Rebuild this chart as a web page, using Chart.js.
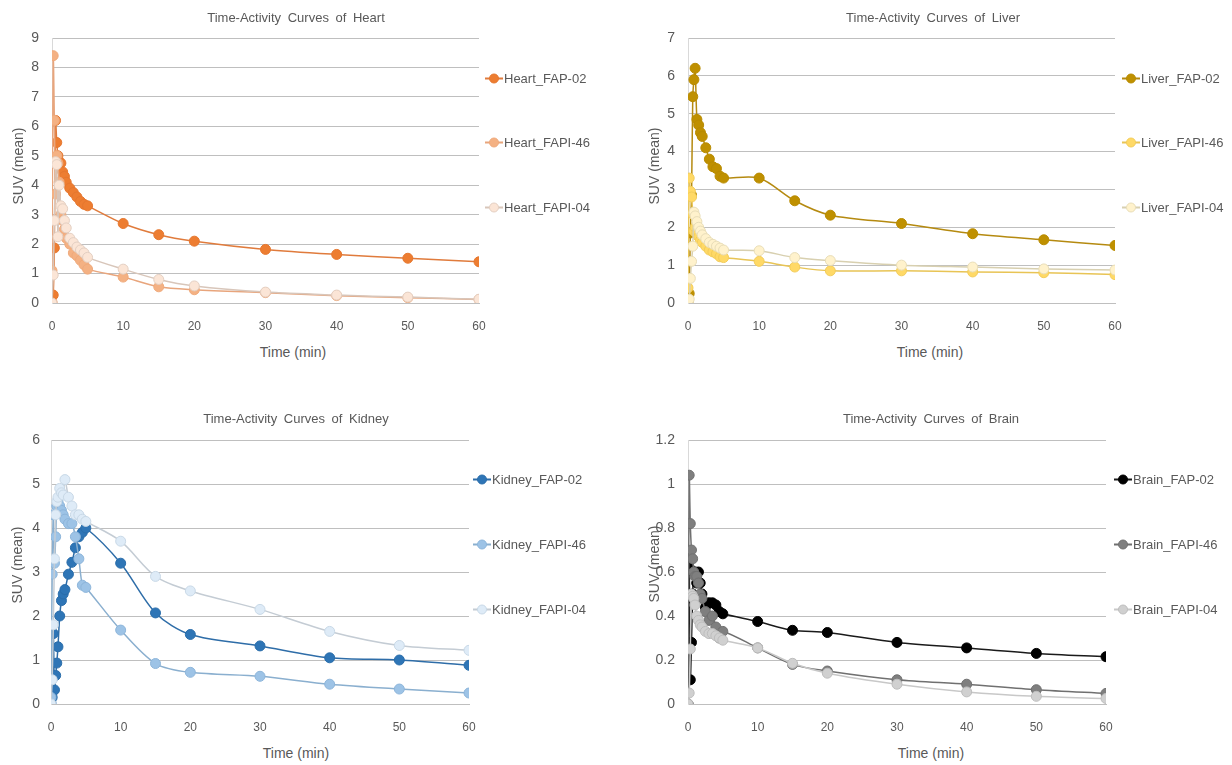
<!DOCTYPE html>
<html lang="en">
<head>
    <meta charset="UTF-8">
    <title>Time-Activity Curves</title>
    <script src="https://cdn.jsdelivr.net/npm/chart.js"></script>
    <style>
        body {
            margin: 0;
            background: #fff;
            font-family: "Liberation Sans", Arial, sans-serif;
            color: #595959;
        }

        #page {
            position: relative;
            width: 1232px;
            height: 765px;
            overflow: hidden;
        }

        canvas {
            position: absolute;
        }

        .title, .xtitle, .ytitle {
            position: absolute;
            white-space: nowrap;
            transform: translate(-50%, -50%);
        }

        .title {
            font-size: 13px;
            word-spacing: 3px;
        }

        .xtitle {
            font-size: 14px;
        }

        .ytitle {
            font-size: 14px;
            transform: translate(-50%, -50%) rotate(-90deg);
        }

        .legend-item {
            position: absolute;
            display: flex;
            align-items: center;
            font-size: 13px;
            white-space: nowrap;
            transform: translateY(-50%);
        }

        .swatch {
            position: relative;
            width: 18px;
            height: 10px;
            margin-right: 1px;
        }

        .swatch .ln {
            position: absolute;
            left: 0;
            right: 0;
            top: 4px;
            height: 2px;
        }

        .swatch .dot {
            position: absolute;
            left: 4px;
            top: 0;
            width: 10px;
            height: 10px;
            border-radius: 50%;
            box-sizing: border-box;
            border: 1px solid;
        }
    </style>
</head>
<body>
<div id="page">
    <canvas id="heart" width="500" height="340" style="left:0;top:0"></canvas>
    <canvas id="liver" width="500" height="340" style="left:636px;top:0"></canvas>
    <canvas id="kidney" width="490" height="345" style="left:0;top:400px"></canvas>
    <canvas id="brain" width="490" height="345" style="left:636px;top:400px"></canvas>
</div>

<script>
    // sampling times (min)
    const times = [0, 0.17, 0.33, 0.5, 0.67, 0.83, 1, 1.25, 1.5, 1.75, 2, 2.5, 3, 3.5, 4, 4.5, 5, 10, 15, 20, 30, 40, 50, 60];

    // SUV (mean)
    const heartFap02  = [0.02, 0.27, 1.87, 6.2, 5.45, 5.0, 4.8, 4.75, 4.45, 4.3, 4.1, 3.9, 3.75, 3.6, 3.45, 3.35, 3.3, 2.7, 2.32, 2.1, 1.82, 1.65, 1.52, 1.4];
    const heartFapi46 = [1.1, 8.4, 6.2, 3.7, 5.0, 4.75, 4.1, 3.0, 2.8, 2.5, 2.2, 2.0, 1.7, 1.6, 1.45, 1.3, 1.15, 0.88, 0.55, 0.45, 0.35, 0.25, 0.18, 0.12];
    const heartFapi04 = [0, 0.95, 2.8, 4.8, 4.7, 2.25, 4.0, 3.3, 3.2, 2.8, 2.55, 2.2, 2.05, 1.9, 1.8, 1.7, 1.55, 1.15, 0.8, 0.58, 0.37, 0.27, 0.2, 0.13];

    const liverFap02  = [0.02, 0.25, 1.85, 2.85, 5.45, 5.9, 6.2, 4.85, 4.7, 4.5, 4.4, 4.1, 3.8, 3.6, 3.55, 3.35, 3.3, 3.3, 2.7, 2.32, 2.1, 1.83, 1.67, 1.52];
    const liverFapi46 = [0.4, 3.3, 2.95, 2.8, 2.35, 1.9, 2.0, 1.85, 1.75, 1.65, 1.6, 1.5, 1.4, 1.35, 1.3, 1.22, 1.2, 1.1, 0.95, 0.85, 0.85, 0.82, 0.8, 0.75];
    const liverFapi04 = [0, 0.1, 0.65, 1.1, 1.5, 2.4, 2.3, 2.15, 2.0, 1.9, 1.8, 1.7, 1.6, 1.55, 1.5, 1.45, 1.4, 1.38, 1.2, 1.12, 1.0, 0.95, 0.9, 0.87];

    const kidneyFap02  = [0.02, 0.15, 1.6, 0.32, 0.65, 0.93, 1.3, 2.0, 2.35, 2.5, 2.6, 2.95, 3.22, 3.55, 3.8, 3.9, 4.0, 3.2, 2.07, 1.58, 1.32, 1.05, 1.0, 0.88];
    const kidneyFapi46 = [0.15, 2.95, 4.3, 3.2, 3.8, 4.5, 4.6, 4.5, 4.4, 4.3, 4.2, 4.1, 4.1, 3.8, 3.3, 2.7, 2.65, 1.68, 0.92, 0.72, 0.63, 0.45, 0.34, 0.25];
    const kidneyFapi04 = [0, 0.55, 1.8, 3.3, 4.3, 4.6, 4.7, 4.9, 4.8, 4.75, 5.1, 4.7, 4.5, 4.3, 4.3, 4.2, 4.15, 3.7, 2.9, 2.57, 2.15, 1.65, 1.33, 1.22];

    const brainFap02  = [0.0, 0.62, 0.11, 0.28, 0.5, 0.6, 0.6, 0.55, 0.6, 0.55, 0.5, 0.44, 0.46, 0.46, 0.45, 0.42, 0.41, 0.375, 0.335, 0.325, 0.28, 0.255, 0.23, 0.215];
    const brainFapi46 = [0.0, 1.04, 0.82, 0.7, 0.66, 0.6, 0.58, 0.58, 0.55, 0.5, 0.48, 0.42, 0.38, 0.4, 0.35, 0.3, 0.33, 0.255, 0.18, 0.15, 0.11, 0.09, 0.065, 0.048];
    const brainFapi04 = [0, 0.05, 0.25, 0.5, 0.49, 0.48, 0.45, 0.4, 0.38, 0.36, 0.35, 0.33, 0.32, 0.32, 0.31, 0.3, 0.29, 0.255, 0.185, 0.14, 0.09, 0.055, 0.035, 0.025];

    const tracers = ['FAP-02', 'FAPI-46', 'FAPI-04'];
    const xTicks = [0, 10, 20, 30, 40, 50, 60];

    const panels = [
        {
            id: 'heart', organ: 'Heart', values: [heartFap02, heartFapi46, heartFapi04],
            yMax: 9, yStep: 1,
            fills: ['#ED7D31', '#F4B183', '#FBE5D6'], edges: ['#E5772F', '#EFAA7C', '#E3CFC2'], lines: ['#E07B3C', '#E8A57C', '#D8C6BA'],
            pad: { left: 0, top: 38, right: 21, bottom: 7 }, yWidth: 52, tickPad: 13,
            title: [296, 17], xTitle: [293, 352], yTitle: [18, 166], legend: [485, 78, 142, 207]
        },
        {
            id: 'liver', organ: 'Liver', values: [liverFap02, liverFapi46, liverFapi04],
            yMax: 7, yStep: 1,
            fills: ['#BF9000', '#FFD966', '#FFF2CC'], edges: ['#B88B00', '#F2CC5A', '#E8DDB8'], lines: ['#B58A10', '#E8C455', '#D8D0B0'],
            pad: { left: 0, top: 38, right: 21, bottom: 7 }, yWidth: 52, tickPad: 13,
            title: [933, 17], xTitle: [930, 352], yTitle: [654, 166], legend: [1122, 78, 142, 207]
        },
        {
            id: 'kidney', organ: 'Kidney', values: [kidneyFap02, kidneyFapi46, kidneyFapi04],
            yMax: 6, yStep: 1,
            fills: ['#2E75B6', '#9DC3E6', '#DEEBF7'], edges: ['#2A6DAA', '#8DB5DA', '#C8D8E6'], lines: ['#2E6DA8', '#8AAFCF', '#C4CCD4'],
            pad: { left: 0, top: 40, right: 21, bottom: 11 }, yWidth: 51, tickPad: 11,
            title: [296, 418], xTitle: [296, 753], yTitle: [17, 565], legend: [473, 479, 544, 609]
        },
        {
            id: 'brain', organ: 'Brain', values: [brainFap02, brainFapi46, brainFapi04],
            yMax: 1.2, yStep: 0.2,
            fills: ['#000000', '#7F7F7F', '#D0D0D0'], edges: ['#000000', '#707070', '#BDBDBD'], lines: ['#1A1A1A', '#707070', '#C8C8C8'],
            pad: { left: 0, top: 40, right: 20, bottom: 11 }, yWidth: 52, tickPad: 13,
            title: [931, 418], xTitle: [931, 753], yTitle: [654, 564], legend: [1114, 479, 544, 609]
        }
    ];

    const page = document.getElementById('page');

    function addText(cls, text, pos) {
        const el = document.createElement('div');
        el.className = cls;
        el.textContent = text;
        el.style.left = pos[0] + 'px';
        el.style.top = pos[1] + 'px';
        page.appendChild(el);
    }

    function addLegend(p) {
        tracers.forEach((tr, i) => {
            const item = document.createElement('div');
            item.className = 'legend-item';
            item.style.left = p.legend[0] + 'px';
            item.style.top = p.legend[i + 1] + 'px';
            item.innerHTML = '<span class="swatch"><span class="ln" style="background:' + p.lines[i] + '"></span>' +
                '<span class="dot" style="background:' + p.fills[i] + ';border-color:' + p.edges[i] + '"></span></span>';
            const label = document.createElement('span');
            label.textContent = p.organ + '_' + tr;
            item.appendChild(label);
            page.appendChild(item);
        });
    }

    panels.forEach(p => {
        new Chart(document.getElementById(p.id), {
            type: 'line',
            data: {
                datasets: p.values.map((vals, i) => ({
                    label: p.organ + '_' + tracers[i],
                    data: times.map((t, k) => ({ x: t, y: vals[k] })),
                    borderColor: p.lines[i],
                    backgroundColor: p.fills[i],
                    pointBackgroundColor: p.fills[i],
                    pointBorderColor: p.edges[i],
                    borderWidth: 1.5,
                    pointRadius: 5,
                    pointBorderWidth: 1,
                    tension: 0.3,
                    order: 3 - i
                }))
            },
            options: {
                responsive: false,
                animation: false,
                layout: { padding: p.pad },
                plugins: {
                    legend: { display: false },
                    tooltip: { enabled: false }
                },
                scales: {
                    x: {
                        type: 'linear',
                        min: 0,
                        max: 60,
                        afterBuildTicks: s => { s.ticks = xTicks.map(v => ({ value: v })); },
                        afterFit: s => { s.height = 30; },
                        ticks: {
                            color: '#595959',
                            font: { family: '"Liberation Sans", Arial, sans-serif', size: 12 },
                            padding: 8
                        },
                        grid: { display: false },
                        border: { display: true, color: '#BFBFBF', width: 1 }
                    },
                    y: {
                        min: 0,
                        max: p.yMax,
                        afterFit: s => { s.width = p.yWidth; },
                        ticks: {
                            stepSize: p.yStep,
                            color: '#595959',
                            font: { family: '"Liberation Sans", Arial, sans-serif', size: 14 },
                            padding: p.tickPad,
                            // Excel style: 1 rather than 1.0
                            callback: v => String(Math.round(v * 10) / 10)
                        },
                        grid: { color: '#BFBFBF', drawTicks: false },
                        border: { display: true, color: '#D9D9D9', width: 1 }
                    }
                }
            }
        });

        addText('title', 'Time-Activity Curves of ' + p.organ, p.title);
        addText('xtitle', 'Time (min)', p.xTitle);
        addText('ytitle', 'SUV (mean)', p.yTitle);
        addLegend(p);
    });
</script>
</body>
</html>
